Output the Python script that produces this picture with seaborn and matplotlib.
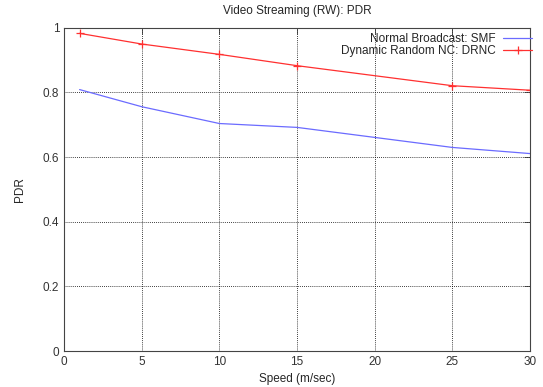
import pandas as pd
import matplotlib.pyplot as plt
import seaborn as sns

# values
speed = [1, 5, 10, 15, 20, 25, 30]
smf_pdr = [0.809, 0.756, 0.704, 0.692, 0.661, 0.630, 0.611]
drnc_pdr = [0.983, 0.950, 0.918, 0.883, 0.852, 0.821, 0.807]
smf_label = 'Normal Broadcast: SMF'
drnc_label = 'Dynamic Random NC: DRNC'

df = pd.DataFrame({'Speed': speed + speed,
                   'PDR': smf_pdr + drnc_pdr,
                   'Series': [smf_label] * len(speed) + [drnc_label] * len(speed)})

sns.set_style('white')
plt.rcParams['font.family'] = ['Liberation Sans', 'DejaVu Sans']

fig = plt.figure(figsize=(5.43, 3.87), dpi=100)
ax = fig.add_axes([0.118, 0.093, 0.858, 0.835])

blue = '#6b6bff'
red = '#ff3030'
sns.lineplot(data=df[df['Series'] == smf_label], x='Speed', y='PDR',
             color=blue, linewidth=0.9, ax=ax, label=smf_label)
sns.lineplot(data=df[df['Series'] == drnc_label], x='Speed', y='PDR',
             color=red, linewidth=0.9, marker='+', markersize=6,
             markeredgewidth=0.9, markeredgecolor=red,
             markevery=[0, 1, 2, 3, 5, 6], ax=ax, label=drnc_label)

ax.set_xlim(0, 30)
ax.set_ylim(0, 1)
ax.set_xticks([0, 5, 10, 15, 20, 25, 30])
ax.set_yticks([0, 0.2, 0.4, 0.6, 0.8, 1])
ax.set_yticklabels(['0', '0.2', '0.4', '0.6', '0.8', '1'])
ax.grid(True, color='black', linestyle=(0, (1, 1.5)), linewidth=0.6)
ax.tick_params(direction='in', top=True, right=True, labelsize=8.5,
               colors='#333333', length=4, width=0.6)
for s in ax.spines.values():
    s.set_color('#444444')
    s.set_linewidth(0.8)

ax.set_title('Video Streaming (RW): PDR', fontsize=8.5, pad=10)
ax.set_xlabel('Speed (m/sec)', fontsize=8.5)
ax.set_ylabel('PDR', fontsize=8.5, labelpad=12)

# gnuplot style key: text right aligned, sample on the right
handles, labels = ax.get_legend_handles_labels()
leg_kw = dict(frameon=False, markerfirst=False, fontsize=8.5, handlelength=2.5,
              numpoints=1, borderaxespad=0.0, borderpad=0.0, handletextpad=0.6)
leg1 = ax.legend([handles[0]], [labels[0]], loc='upper right',
                 bbox_to_anchor=(1.005, 0.985), **leg_kw)
ax.add_artist(leg1)
ax.legend([handles[1]], [labels[1]], loc='upper right',
          bbox_to_anchor=(1.005, 0.947), **leg_kw)

plt.savefig('out.png', dpi=100)
